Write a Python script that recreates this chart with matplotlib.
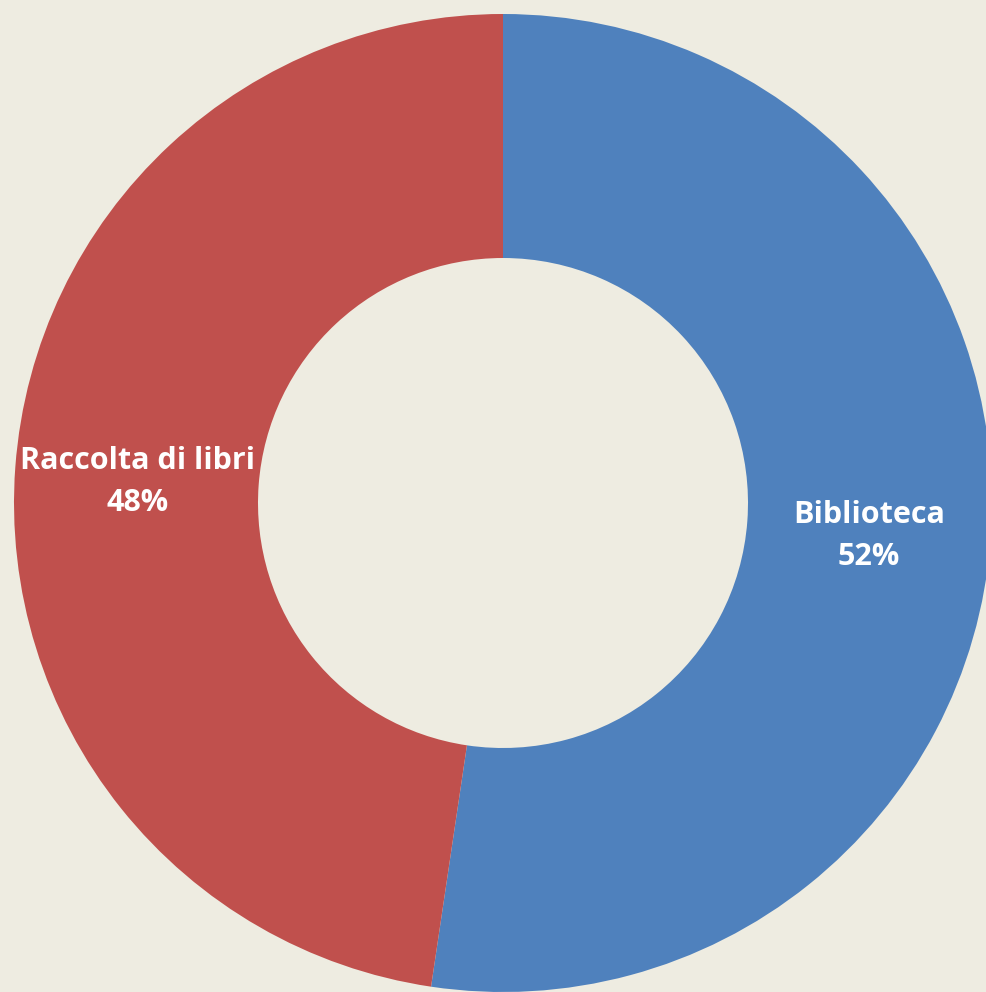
import matplotlib.pyplot as plt

labels = ['Biblioteca', 'Raccolta di libri']
shares = [52.35, 47.65]
shown = [52, 48]
colors = ['#4F81BD', '#C0504D']
bg = '#EEECE1'

fig = plt.figure(figsize=(9.87, 9.92), dpi=100, facecolor=bg)
ax = fig.add_axes([0, 0, 1, 1])
ax.set_facecolor(bg)

# pixel-like data coords so the ring can run off the right and bottom edges
cx, cy, r = 503, 992 - 503, 489
wedges, texts = ax.pie(
    shares,
    labels=[f'{n}\n{v}%' for n, v in zip(labels, shown)],
    colors=colors,
    startangle=90,
    counterclock=False,
    radius=r,
    center=(cx, cy),
    labeldistance=0.75,
    wedgeprops=dict(width=r - 245, edgecolor='none'),
    textprops=dict(color='white', fontsize=22, fontweight='bold',
                   family=['Open Sans', 'DejaVu Sans'], linespacing=1.5),
)
for t in texts:
    t.set_ha('center')
    t.set_va('center')
    x, y = t.get_position()
    t.set_position((x, y - 6))

ax.set_xlim(0, 987)
ax.set_ylim(0, 992)
ax.set_aspect('auto')
ax.axis('off')

fig.savefig('out.png', dpi=100, facecolor=bg)
